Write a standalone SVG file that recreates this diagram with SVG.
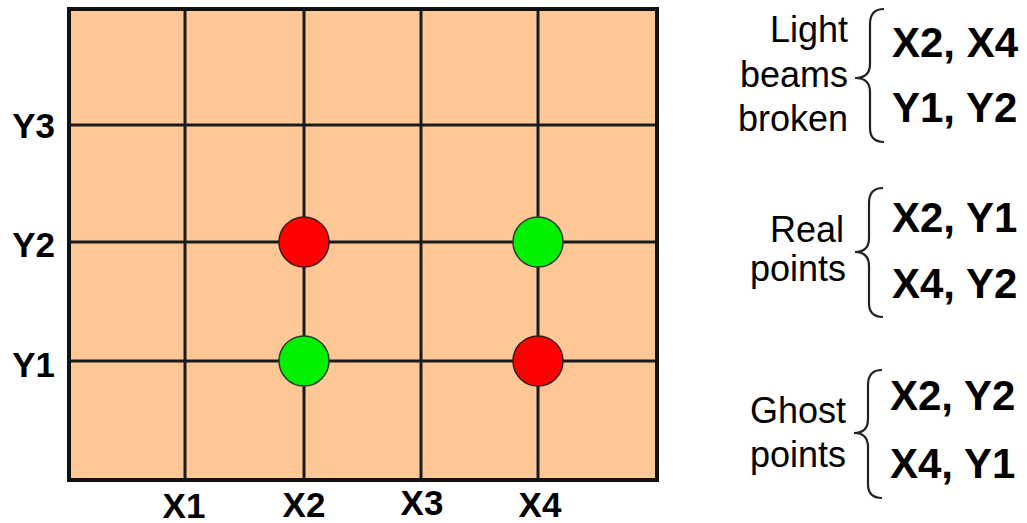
<svg xmlns="http://www.w3.org/2000/svg" width="1027" height="523" viewBox="0 0 1027 523">
<style>
.grid{stroke:#1a1a1a;stroke-width:3;fill:none}
.lbl{font-family:"Liberation Sans",Arial,sans-serif;font-weight:bold;font-size:35px;fill:#000}
.big{font-family:"Liberation Sans",Arial,sans-serif;font-weight:bold;font-size:42px;fill:#000}
.reg{font-family:"Liberation Sans",Arial,sans-serif;font-size:36px;fill:#000;text-anchor:end}
.brace{stroke:#222;stroke-width:2.2;fill:none}
.red{fill:#ff0000;stroke:#3a1a1a;stroke-width:1.5}
.green{fill:#00f000;stroke:#2a3a2a;stroke-width:1.5}
</style>
<rect width="1027" height="523" fill="#fff"/>
<g id="board">
<rect x="69" y="9" width="588" height="471" fill="#fdc896"/>
<g class="grid">
<line x1="185" y1="9" x2="185" y2="480"/>
<line x1="304" y1="9" x2="304" y2="480"/>
<line x1="421" y1="9" x2="421" y2="480"/>
<line x1="538" y1="9" x2="538" y2="480"/>
<line x1="69" y1="125" x2="657" y2="125"/>
<line x1="69" y1="242" x2="657" y2="242"/>
<line x1="69" y1="361" x2="657" y2="361"/>
</g>
<rect x="69" y="9" width="588" height="471" fill="none" stroke="#111" stroke-width="4"/>
</g>
<g id="axis-labels" class="lbl">
<text x="55" y="138" text-anchor="end">Y3</text>
<text x="55" y="257" text-anchor="end">Y2</text>
<text x="55" y="377" text-anchor="end">Y1</text>
<text x="184" y="518" text-anchor="middle">X1</text>
<text x="304" y="517" text-anchor="middle">X2</text>
<text x="422" y="515" text-anchor="middle">X3</text>
<text x="540" y="517" text-anchor="middle">X4</text>
</g>
<g id="point-x2-y2"><circle class="red" cx="304" cy="242" r="25"/></g>
<g id="point-x4-y2"><circle class="green" cx="538" cy="242" r="25"/></g>
<g id="point-x2-y1"><circle class="green" cx="304" cy="361" r="25"/></g>
<g id="point-x4-y1"><circle class="red" cx="538" cy="361" r="25"/></g>
<g id="legend-beams">
<text class="reg" x="848" y="42">Light</text>
<text class="reg" x="848" y="87">beams</text>
<text class="reg" x="848" y="131">broken</text>
<path class="brace" d="M884,9 Q870,9 870,24 L870,64 Q870,78 855,78 Q870,78 870,92 L870,128 Q870,142 884,142"/>
<text class="big" x="892" y="57">X2, X4</text>
<text class="big" x="892" y="122">Y1, Y2</text>
</g>
<g id="legend-real">
<text class="reg" x="844" y="242">Real</text>
<text class="reg" x="846" y="281">points</text>
<path class="brace" d="M883,188 Q869,188 869,203 L869,238 Q869,252 855,252 Q869,252 869,266 L869,303 Q869,317 883,317"/>
<text class="big" x="892" y="232">X2, Y1</text>
<text class="big" x="892" y="298">X4, Y2</text>
</g>
<g id="legend-ghost">
<text class="reg" x="846" y="423">Ghost</text>
<text class="reg" x="846" y="467">points</text>
<path class="brace" d="M882,370 Q868,370 868,385 L868,419 Q868,433 854,433 Q868,433 868,447 L868,484 Q868,498 882,498"/>
<text class="big" x="890" y="410">X2, Y2</text>
<text class="big" x="890" y="478">X4, Y1</text>
</g>
</svg>
